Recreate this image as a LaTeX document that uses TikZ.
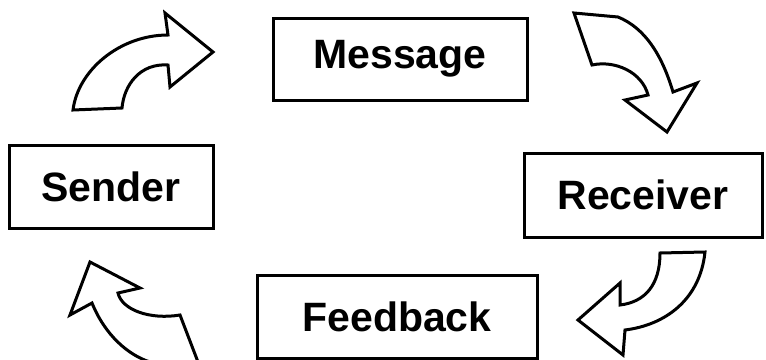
\documentclass[tikz,border=0pt]{standalone}
\usepackage{fontspec}
\setmainfont{Liberation Sans}
\usepackage{tikz}
\usetikzlibrary{positioning,calc}

\tikzset{
  stage/.style={draw,line width=3pt,inner sep=0pt,font=\fontsize{41}{41}\selectfont\bfseries},
  bigarrow/.style={draw,fill=white,line width=3pt}
}

\begin{document}
\begin{tikzpicture}[x=1pt,y=-1pt]
\useasboundingbox (0,0) rectangle (766,359);
% the four stages
\node[stage,minimum width=254pt,minimum height=82pt] (message) at (400,59) {Message};
\node[stage,minimum width=204pt,minimum height=83pt] (sender) at (111,186.5) {Sender};
\node[stage,minimum width=238pt,minimum height=84pt] (receiver) at (643,195) {Receiver};
\node[stage,minimum width=280pt,minimum height=83pt] (feedback) at (397,316.5) {Feedback};
% sender to message
\draw[bigarrow] (73,110) -- (122,108) .. controls (124,85) and (140,63) .. (168,65)
  -- (170,87) -- (213,52) -- (165,13) -- (168,35)
  .. controls (120,35) and (78,70) .. (73,110) -- cycle;
% message to receiver
\draw[bigarrow] (574,13) -- (592,65) .. controls (615,60) and (642,72) .. (648,95)
  -- (625,100) -- (667,132) -- (697,83) -- (673,92)
  .. controls (662,55) and (645,28) .. (618,17) -- cycle;
% receiver to feedback
\draw[bigarrow] (660,253) -- (705,252) .. controls (700,300) and (665,325) .. (625,330)
  -- (623,355) -- (578,320) -- (620,283) -- (620,305)
  .. controls (645,302) and (660,285) .. (660,253) -- cycle;
% feedback to sender
\draw[bigarrow] (198,362) -- (180,315) .. controls (150,320) and (122,310) .. (118,293)
  -- (140,288) -- (90,262) -- (70,315) -- (92,303)
  .. controls (105,335) and (128,355) .. (150,362) -- cycle;
\end{tikzpicture}
\end{document}
